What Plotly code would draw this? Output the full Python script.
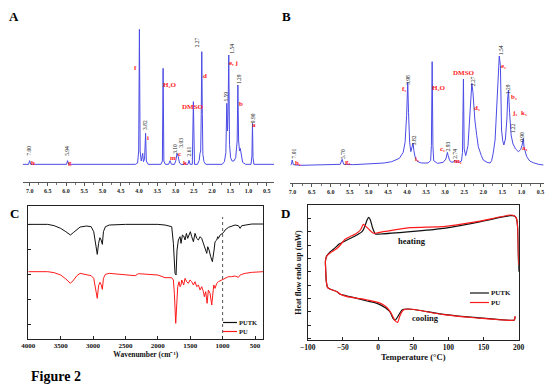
import plotly.graph_objects as go

# page offset of the plot inside the browser (default body margin)
OFF = 8
W, H = 546, 382
SERIF = "Liberation Serif"
NMR_COLOR = "#4b4be6"
RED = "#ff1a1a"

# ---------------- Panel A : 1H NMR (PUTK) ----------------
nmrA_ppm = [7.19, 7.03, 7.00, 6.97, 5.99, 5.96, 5.93, 4.10, 4.04, 4.01, 3.99, 3.97, 3.94, 3.92, 3.90,
            3.88, 3.85, 3.82, 3.80, 3.75, 3.40, 3.36, 3.34, 3.32, 3.28, 3.19, 3.15, 3.11, 3.03, 2.99,
            2.96, 2.93, 2.89, 2.85, 2.77, 2.74, 2.71, 2.66, 2.63, 2.60, 2.54, 2.51, 2.48, 2.40, 2.35,
            2.33, 2.31, 2.295, 2.28, 2.265, 2.25, 2.22, 2.17, 1.72, 1.66, 1.62, 1.595, 1.575, 1.56,
            1.54, 1.52, 1.49, 1.45, 1.40, 1.35, 1.31, 1.29, 1.27, 1.245, 1.225, 1.20, 1.16, 1.08,
            0.93, 0.905, 0.89, 0.875, 0.85, 0.30]
nmrA_int = [0, 0, 11, 0, 0, 11, 0, 0, 4, 40, 405, 40, 10, 20, 33,
            8, 15, 93, 10, 0, 0, 10, 288, 10, 0, 0, 11, 0, 0, 12,
            33, 25, 4, 0, 0, 5, 0, 0, 12, 0, 0, 188, 0, 0, 12,
            33, 40, 150, 338, 150, 30, 8, 0, 0, 8, 35, 183, 100, 150,
            328, 60, 20, 10, 10, 20, 70, 238, 70, 40, 48, 25, 6, 0,
            0, 25, 123, 20, 0, 0]

labA_red_text = ["h", "g", "f", "i", "H₂O", "m", "c", "k", "DMSO", "d", "e, j", "b", "a"]
labA_red_ppm = [6.91, 5.89, 4.09, 3.76, 3.14, 3.08, 2.88, 2.73, 2.53, 2.19, 1.42, 1.21, 0.85]
labA_red_int = [5, 5, 288, 80, 238, 18, 31, 5, 171, 265, 305, 181, 118]

labA_num_text = ["7.00", "5.94", "3.98", "3.82", "3.10", "3.03", "2.61", "2.27", "1.59", "1.54", "1.29", "0.90"]
labA_num_ppm = [7.03, 5.98, 3.99, 3.82, 3.00, 2.85, 2.62, 2.42, 1.62, 1.45, 1.24, 0.89]
labA_num_int = [40, 40, 433, 117, 45, 65, 40, 365, 203, 347, 255, 140]

# ---------------- Panel B : 1H NMR (PU) ----------------
nmrB_ppm = [7.06, 7.03, 7.01, 6.98, 6.80, 6.00, 5.75, 5.70, 5.66, 5.40, 5.00, 4.60, 4.40, 4.20,
            4.10, 4.05, 4.01, 3.98, 3.96, 3.93, 3.90, 3.87, 3.84, 3.82, 3.78, 3.72, 3.62, 3.45,
            3.38, 3.36, 3.34, 3.32, 3.30, 3.20, 3.05, 2.98, 2.96, 2.94, 2.92, 2.88, 2.82, 2.77,
            2.75, 2.72, 2.64, 2.57, 2.545, 2.52, 2.50, 2.46, 2.40, 2.36, 2.32, 2.30, 2.27, 2.22,
            2.17, 2.13, 2.05, 2.00, 1.90, 1.82, 1.78, 1.74, 1.69, 1.65, 1.61, 1.58, 1.55, 1.52,
            1.49, 1.46, 1.42, 1.38, 1.36, 1.34, 1.31, 1.27, 1.22, 1.15, 1.08, 1.02, 0.98, 0.95,
            0.93, 0.86, 0.78, 0.69, 0.55, 0.42]
nmrB_int = [2, 4, 17, 3, 1, 2, 4, 19, 4, 3, 5, 8, 12, 22,
            40, 70, 150, 250, 160, 70, 42, 55, 68, 45, 22, 12, 8, 8,
            15, 60, 312, 60, 15, 7, 10, 20, 30, 40, 30, 15, 10, 12,
            17, 12, 10, 14, 40, 260, 50, 30, 60, 150, 225, 247, 220, 137,
            90, 57, 30, 17, 10, 8, 15, 37, 77, 187, 290, 329, 300, 107,
            75, 62, 80, 140, 200, 227, 160, 92, 65, 50, 42, 48, 62, 82,
            55, 27, 14, 9, 4, 2]

labB_red_text = ["h₁", "g₁", "f₁", "i₁", "H₂O", "c₁", "m₁", "DMSO", "d₁", "e₁", "b₁", "j₁", "k₁", "a₁"]
labB_red_ppm = [6.87, 5.56, 4.09, 3.74, 3.17, 3.06, 2.65, 2.51, 2.16, 1.46, 1.20, 1.19, 0.94, 0.90]
labB_red_int = [7, 12, 229, 19, 232, 49, 15, 277, 172, 299, 207, 159, 157, 52]

labB_num_text = ["7.01", "5.70", "3.98", "3.82", "2.93", "2.74", "2.27", "1.54", "1.29", "1.22", "0.90"]
labB_num_ppm = [6.96, 5.68, 3.98, 3.81, 2.93, 2.75, 2.28, 1.53, 1.33, 1.22, 0.98]
labB_num_int = [37, 35, 257, 77, 57, 35, 252, 347, 229, 112, 87]

# ---------------- Panel C : FTIR ----------------
ftir_putk_wn = [4000, 3700, 3600, 3500, 3420, 3350, 3300, 3250, 3200, 3100, 3030, 2990, 2960, 2935,
                2915, 2895, 2875, 2857, 2840, 2810, 2750, 2500, 2000, 1889, 1786, 1760, 1735, 1719,
                1704, 1683, 1657, 1642, 1621, 1601, 1580, 1559, 1539, 1518, 1498, 1477, 1451, 1426,
                1400, 1374, 1348, 1323, 1297, 1271, 1245, 1230, 1209, 1184, 1158, 1132, 1117, 1091,
                1075, 1065, 1039, 988, 962, 911, 859, 808, 756, 730, 705, 653, 550, 372]
ftir_putk_val = [344, 344, 340, 332, 322, 312, 320, 329, 336, 339, 337, 322, 282, 254,
                 287, 304, 297, 284, 322, 337, 342, 344, 344, 342, 337, 287, 197, 192,
                 267, 297, 307, 287, 312, 309, 297, 317, 302, 312, 322, 307, 292, 317,
                 302, 297, 307, 302, 287, 277, 257, 277, 267, 247, 232, 267, 292, 297,
                 307, 302, 312, 319, 327, 335, 339, 342, 340, 332, 340, 342, 345, 345]

ftir_pu_wn = [4000, 3700, 3600, 3500, 3420, 3350, 3300, 3250, 3200, 3100, 3030, 2990, 2960, 2935,
              2915, 2895, 2875, 2857, 2840, 2810, 2750, 2500, 2350, 2300, 2000, 1889, 1786, 1760,
              1745, 1724, 1709, 1693, 1673, 1657, 1642, 1631, 1601, 1580, 1555, 1529, 1503, 1477,
              1451, 1426, 1400, 1374, 1348, 1323, 1297, 1282, 1261, 1240, 1220, 1194, 1168, 1153,
              1137, 1117, 1091, 1065, 1014, 962, 911, 859, 808, 756, 730, 705, 653, 550, 372]
ftir_pu_val = [202, 202, 199, 192, 180, 167, 177, 190, 197, 194, 190, 182, 152, 122,
               160, 170, 163, 149, 182, 194, 197, 194, 190, 196, 192, 184, 184, 177,
               137, 47, 107, 157, 172, 157, 162, 177, 162, 182, 172, 167, 177, 172,
               162, 172, 157, 162, 147, 157, 142, 127, 142, 107, 147, 137, 102, 132,
               162, 152, 167, 172, 177, 182, 187, 187, 189, 185, 192, 194, 197, 200, 202]

# ---------------- Panel D : DSC ----------------
dsc_heat_putk_T = [-74.9, -73.5, -67.8, -60.7, -55.9, -48.8, -39.3, -29.9, -22.7, -19.0, -15.6, -13.3,
                   -10.9, -7.6, -3.8, 3.3, 46, 93, 140.8, 188, 193.8, 196.7, 198.6, 199.5, 200]
dsc_heat_putk = [235, 250, 265, 277, 287, 295, 305, 315, 325, 340, 360, 368,
                 360, 335, 318, 318, 325, 335, 353, 373, 372, 365, 335, 255, 205]
dsc_cool_putk_T = [194.8, 193.8, 140.8, 93.4, 55.5, 41.2, 34.1, 29.4, 24.6, 21.3, 17.5, 10.4, -1.4,
                   -15.6, -29.9, -44.1, -53.6, -58.3, -67.8, -71.6, -73.5, -74.9]
dsc_cool_putk = [70, 60, 67, 77, 90, 93, 90, 75, 60, 65, 83, 97, 110,
                 117, 125, 132, 137, 145, 152, 157, 175, 235]

dsc_heat_pu_T = [-74.9, -73.5, -67.8, -60.0, -53.6, -47.0, -40.0, -32.0, -25.0, -21.0, -17.0, -12.0,
                 -8.0, -4.0, 0, 46, 93, 140.8, 188, 193.8, 196.7, 198.6, 199.5, 200]
dsc_heat_pu = [235, 250, 262, 272, 285, 302, 310, 318, 330, 347, 340, 330,
               322, 320, 322, 337, 340, 355, 375, 373, 365, 335, 255, 225]
dsc_cool_pu_T = [194.8, 193.8, 140.8, 93.4, 55.5, 44, 36, 31, 28, 24, 20, 15, 8, 0,
                 -15, -25, -35, -44, -53.6, -58, -67.8, -71.6, -73.5, -74.9]
dsc_cool_pu = [72, 60, 66, 76, 90, 93, 90, 72, 53, 58, 75, 92, 105, 113,
               120, 124, 127, 130, 137, 145, 152, 157, 175, 235]

# ============================================================
def dx(p):
    return (p - OFF) / W

def dy(p):
    return 1 - (p - OFF) / H

fig = go.Figure()

fig.add_trace(go.Scatter(x=nmrA_ppm, y=nmrA_int, mode="lines", xaxis="x", yaxis="y",
                         line=dict(color=NMR_COLOR, width=1), showlegend=False))
fig.add_trace(go.Scatter(x=nmrB_ppm, y=nmrB_int, mode="lines", xaxis="x2", yaxis="y2",
                         line=dict(color=NMR_COLOR, width=1), showlegend=False))
fig.add_trace(go.Scatter(x=ftir_putk_wn, y=ftir_putk_val, mode="lines", xaxis="x3", yaxis="y3",
                         line=dict(color="#111111", width=1), name="PUTK", showlegend=False))
fig.add_trace(go.Scatter(x=ftir_pu_wn, y=ftir_pu_val, mode="lines", xaxis="x3", yaxis="y3",
                         line=dict(color=RED, width=1), name="PU", showlegend=False))
for T, v, c in [(dsc_heat_putk_T, dsc_heat_putk, "#111111"), (dsc_cool_putk_T, dsc_cool_putk, "#111111"),
                (dsc_heat_pu_T, dsc_heat_pu, RED), (dsc_cool_pu_T, dsc_cool_pu, RED)]:
    fig.add_trace(go.Scatter(x=T, y=v, mode="lines", xaxis="x4", yaxis="y4",
                             line=dict(color=c, width=1.2, shape="spline", smoothing=0.5),
                             showlegend=False))

tickfont_nmr = dict(family=SERIF, size=6, color="#222", weight="bold")

nmr_x = dict(showline=True, linecolor="#555", linewidth=1, ticks="outside", ticklen=3, tickcolor="#555",
             dtick=0.5, tick0=0.5, tickformat=".1f", tickfont=tickfont_nmr, showgrid=False, zeroline=False,
             automargin=False,
             minor=dict(ticks="outside", ticklen=2, dtick=0.25, tick0=0.25, tickcolor="#777"))
frame_x = dict(showline=True, mirror=True, linecolor="#222", linewidth=1, ticks="inside", ticklen=3,
               tickcolor="#222", showgrid=False, zeroline=False, automargin=False)
frame_y = dict(showline=True, mirror=True, linecolor="#222", linewidth=1, ticks="inside", ticklen=3,
               tickcolor="#222", showticklabels=False, showgrid=False, zeroline=False, automargin=False)

fig.update_layout(
    template="none",
    width=W, height=H, margin=dict(l=0, r=0, t=0, b=0, pad=0, autoexpand=False),
    paper_bgcolor="white", plot_bgcolor="white",
    font=dict(family=SERIF, color="#111"),
    xaxis=dict(domain=[dx(22.7), dx(274)], range=[7.19, 0.30], anchor="y", **nmr_x),
    yaxis=dict(domain=[dy(182), dy(25)], range=[-53, 418], visible=False, automargin=False),
    xaxis2=dict(domain=[dx(290.3), dx(543.7)], range=[7.06, 0.415], anchor="y2", **nmr_x),
    yaxis2=dict(domain=[dy(183), dy(25)], range=[-52, 422], visible=False, automargin=False),
    xaxis3=dict(domain=[dx(28.3), dx(263.3)], range=[4000, 372], anchor="y3", dtick=500,
                tickfont=dict(family=SERIF, size=7, color="#111", weight="bold"),
                title=dict(text="Wavenumber (cm⁻¹)", font=dict(family=SERIF, size=7.5, weight="bold"),
                           standoff=2), **frame_x),
    yaxis3=dict(domain=[dy(339), dy(205.7)], range=[0, 400], anchor="x3", tick0=45, dtick=75, **frame_y),
    xaxis4=dict(domain=[dx(307.7), dx(518.7)], range=[-100, 200], anchor="y4", dtick=50,
                tickfont=dict(family=SERIF, size=7.5, color="#111", weight="bold"),
                title=dict(text="Temperature (°C)", font=dict(family=SERIF, size=8.5, weight="bold"),
                           standoff=2), **frame_x),
    yaxis4=dict(domain=[dy(340), dy(205)], range=[0, 405], anchor="x4", tick0=5, dtick=40,
                title=dict(text="Heat flow endo up (mW)", font=dict(family=SERIF, size=8, weight="bold"),
                           standoff=3), **frame_y),
)

C = dict(xanchor="center", yanchor="middle", showarrow=False)
ann = []
for txt, xv, yv in zip(labA_red_text, labA_red_ppm, labA_red_int):
    ann.append(dict(text=txt, x=xv, y=yv, xref="x", yref="y", **C,
                    font=dict(family=SERIF, size=7, color=RED, weight="bold")))
for txt, xv, yv in zip(labA_num_text, labA_num_ppm, labA_num_int):
    ann.append(dict(text=txt, x=xv, y=yv, xref="x", yref="y", textangle=-90, **C,
                    font=dict(family=SERIF, size=5.5, color="#222")))
for txt, xv, yv in zip(labB_red_text, labB_red_ppm, labB_red_int):
    ann.append(dict(text=txt, x=xv, y=yv, xref="x2", yref="y2", **C,
                    font=dict(family=SERIF, size=7, color=RED, weight="bold")))
for txt, xv, yv in zip(labB_num_text, labB_num_ppm, labB_num_int):
    ann.append(dict(text=txt, x=xv, y=yv, xref="x2", yref="y2", textangle=-90, **C,
                    font=dict(family=SERIF, size=5.5, color="#222")))

for txt, px, py in [("A", 14, 16.5), ("B", 286, 16.5), ("C", 14, 214), ("D", 285, 214)]:
    ann.append(dict(text=txt, x=dx(px), y=dy(py), xref="paper", yref="paper", borderpad=0, **C,
                    font=dict(family=SERIF, size=13, color="#000", weight="bold")))
ann.append(dict(text="Figure 2", x=dx(56), y=dy(376), xref="paper", yref="paper", borderpad=0, **C,
                font=dict(family=SERIF, size=14, color="#000", weight="bold")))
ann.append(dict(text="heating", x=dx(412), y=dy(241), xref="paper", yref="paper", **C,
                font=dict(family=SERIF, size=8.5, color="#111", weight="bold")))
ann.append(dict(text="cooling", x=dx(426), y=dy(318), xref="paper", yref="paper", **C,
                font=dict(family=SERIF, size=8.5, color="#111", weight="bold")))

# legends (manual)
shapes = []
L = dict(yanchor="middle", showarrow=False, xanchor="left", borderpad=0)
for name, col, py in [("PUTK", "#111111", 322.5), ("PU", RED, 331.5)]:
    shapes.append(dict(type="line", xref="paper", yref="paper", x0=dx(223), x1=dx(237), y0=dy(py), y1=dy(py),
                       line=dict(color=col, width=1.2)))
    ann.append(dict(text=name, x=dx(238), y=dy(py), xref="paper", yref="paper", **L,
                    font=dict(family=SERIF, size=6.5, color="#111", weight="bold")))
for name, col, py in [("PUTK", "#111111", 293), ("PU", RED, 302.5)]:
    shapes.append(dict(type="line", xref="paper", yref="paper", x0=dx(470), x1=dx(489), y0=dy(py), y1=dy(py),
                       line=dict(color=col, width=1.2)))
    ann.append(dict(text=name, x=dx(490), y=dy(py), xref="paper", yref="paper", **L,
                    font=dict(family=SERIF, size=7, color="#111", weight="bold")))

# dotted marker line in FTIR panel
shapes.append(dict(type="line", xref="x3", yref="y3", x0=1000, x1=1000, y0=18, y1=366,
                   line=dict(color="#555", width=1, dash="dot")))

fig.update_layout(annotations=ann, shapes=shapes)
fig.write_html("out.html")
